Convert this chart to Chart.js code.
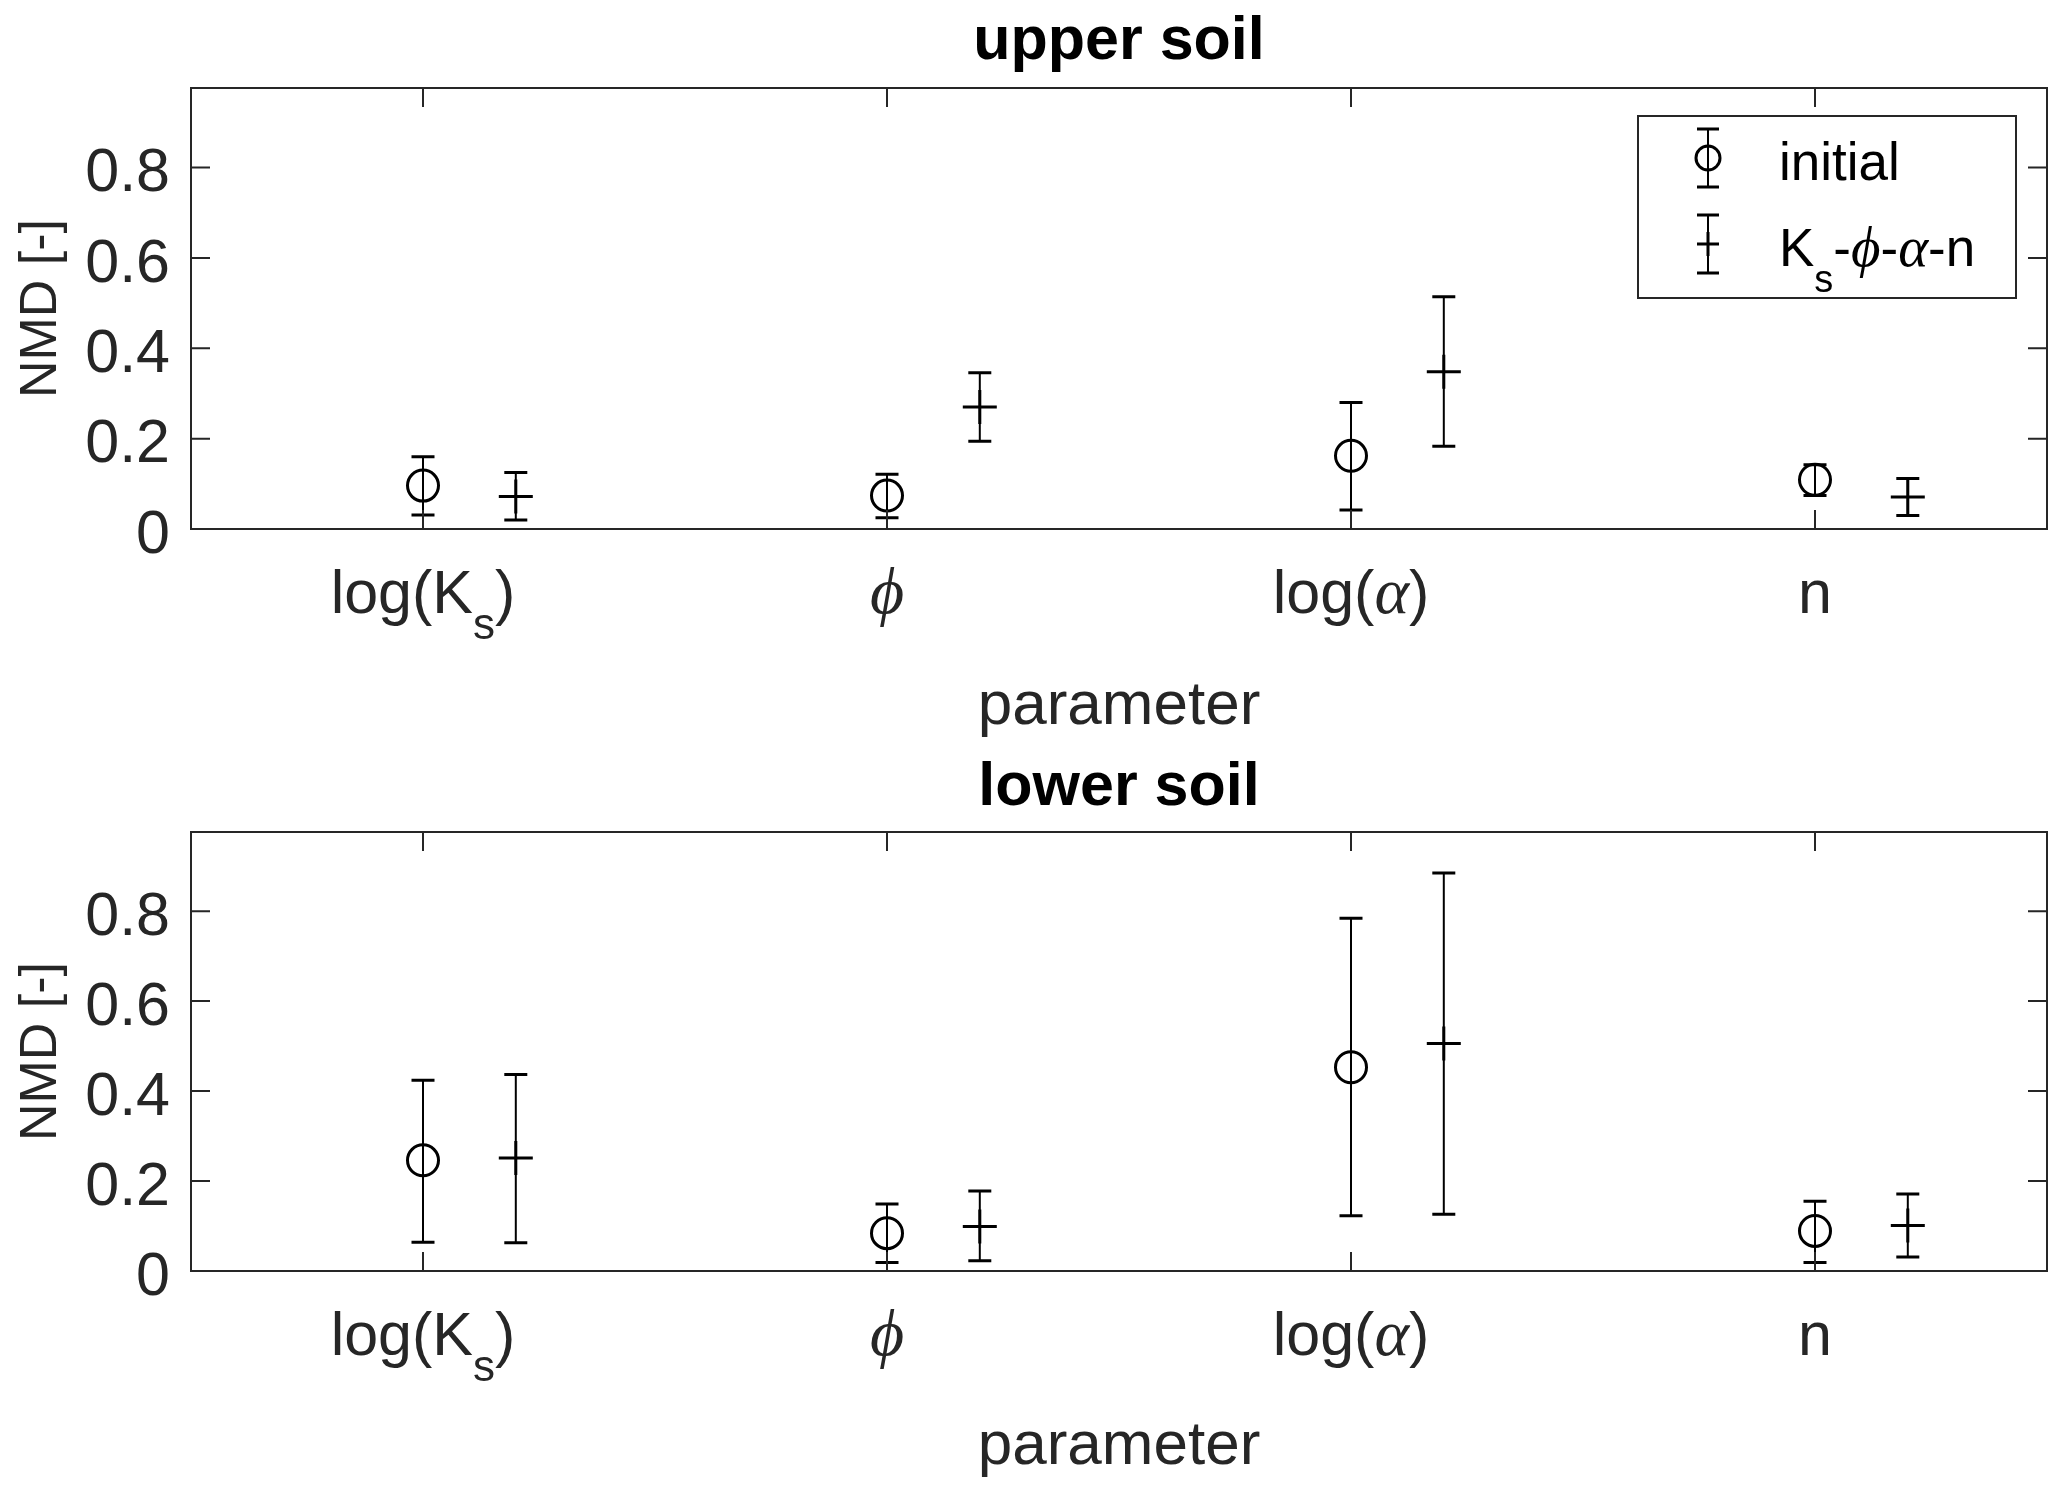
<!DOCTYPE html>
<html>
<head>
<meta charset="utf-8">
<title>NMD per parameter</title>
<script src="https://cdn.jsdelivr.net/npm/chart.js@4.4.1/dist/chart.umd.min.js"></script>
<style>
  html, body { margin: 0; padding: 0; background: #fff; }
  #wrap { position: relative; width: 2067px; height: 1495px; }
  .pane { position: absolute; left: 0; width: 2067px; }
  #upperPane { top: 0; height: 748px; }
  #lowerPane { top: 748px; height: 747px; }
  canvas { display: block; }
</style>
</head>
<body>
<div id="wrap">
  <div class="pane" id="upperPane"><canvas id="upperChart" width="2067" height="748"></canvas></div>
  <div class="pane" id="lowerPane"><canvas id="lowerChart" width="2067" height="747"></canvas></div>
</div>
<script>
// categories sit at x = 1..4, the second series is drawn 0.2 to the right
const categoryPos = [1, 2, 3, 4];
const seriesShift = [0, 0.2];
const yTicks = [0, 0.2, 0.4, 0.6, 0.8];
const yMax = 0.976;

const seriesNames = ["initial", "Ks-ϕ-α-n"];
const seriesLabelParts = [
  [{ t: "initial" }],
  [{ t: "K" }, { t: "s", sub: true }, { t: "-" }, { t: "ϕ", greek: true }, { t: "-" }, { t: "α", greek: true }, { t: "-n" }],
];
const xTickParts = [
  [{ t: "log(K" }, { t: "s", sub: true }, { t: ")" }],
  [{ t: "ϕ", greek: true }],
  [{ t: "log(" }, { t: "α", greek: true }, { t: ")" }],
  [{ t: "n" }],
];

// upper soil
const upInit   = [0.096, 0.074, 0.162, 0.109];
const upInitLo = [0.031, 0.025, 0.042, 0.074];
const upInitHi = [0.160, 0.121, 0.280, 0.142];
const upFit    = [0.072, 0.270, 0.348, 0.071];
const upFitLo  = [0.020, 0.194, 0.183, 0.030];
const upFitHi  = [0.125, 0.346, 0.514, 0.112];

// lower soil
const lowInit   = [0.246, 0.084, 0.453, 0.089];
const lowInitLo = [0.064, 0.019, 0.123, 0.019];
const lowInitHi = [0.424, 0.149, 0.784, 0.155];
const lowFit    = [0.251, 0.099, 0.506, 0.101];
const lowFitLo  = [0.063, 0.023, 0.126, 0.031];
const lowFitHi  = [0.437, 0.178, 0.885, 0.171];

const SANS = '"Liberation Sans", Arial, Helvetica, sans-serif';
const SERIF = '"Liberation Serif", "DejaVu Serif", serif';
const AXIS_COLOR = "#262626";

Chart.defaults.font.family = SANS;

function partFont(p, size) {
  if (p.greek) return `italic ${Math.round(size * 1.08)}px ${SERIF}`;
  if (p.sub) return `${Math.round(size * 0.72)}px ${SANS}`;
  return `${size}px ${SANS}`;
}

function drawRich(ctx, parts, x, y, size, align, drop) {
  ctx.save();
  ctx.textBaseline = "alphabetic";
  ctx.textAlign = "left";
  const widths = parts.map((p) => {
    ctx.font = partFont(p, size);
    return ctx.measureText(p.t).width;
  });
  const total = widths.reduce((a, b) => a + b, 0);
  let cx = align === "center" ? x - total / 2 : x;
  parts.forEach((p, i) => {
    ctx.font = partFont(p, size);
    ctx.fillText(p.t, cx, p.sub ? y + drop : y);
    cx += widths[i];
  });
  ctx.restore();
}

const errorBarPlugin = {
  id: "errorBars",
  beforeDatasetsDraw(chart) {
    const { ctx } = chart;
    const yScale = chart.scales.y;
    chart.data.datasets.forEach((ds, di) => {
      const meta = chart.getDatasetMeta(di);
      ctx.save();
      ctx.strokeStyle = "#000";
      meta.data.forEach((pt, i) => {
        const yLo = yScale.getPixelForValue(ds.errLo[i]);
        const yHi = yScale.getPixelForValue(ds.errHi[i]);
        ctx.lineWidth = 2;
        ctx.beginPath();
        ctx.moveTo(pt.x, yLo);
        ctx.lineTo(pt.x, yHi);
        ctx.stroke();
        ctx.lineWidth = 3;
        ctx.beginPath();
        ctx.moveTo(pt.x - 11.5, yLo);
        ctx.lineTo(pt.x + 11.5, yLo);
        ctx.moveTo(pt.x - 11.5, yHi);
        ctx.lineTo(pt.x + 11.5, yHi);
        ctx.stroke();
      });
      ctx.restore();
    });
  },
};

// matlab-like box: frame, inward ticks on all four sides, rich x labels, legend
const axesPlugin = {
  id: "matlabAxes",
  afterDatasetsDraw(chart) {
    const { ctx, chartArea: a, scales: { x, y } } = chart;
    const tl = 19;
    ctx.save();
    ctx.strokeStyle = AXIS_COLOR;
    ctx.lineWidth = 2;
    ctx.beginPath();
    x.ticks.forEach((t) => {
      const px = x.getPixelForValue(t.value);
      ctx.moveTo(px, a.bottom);
      ctx.lineTo(px, a.bottom - tl);
      ctx.moveTo(px, a.top);
      ctx.lineTo(px, a.top + tl);
    });
    y.ticks.forEach((t) => {
      const py = y.getPixelForValue(t.value);
      ctx.moveTo(a.left, py);
      ctx.lineTo(a.left + tl, py);
      ctx.moveTo(a.right, py);
      ctx.lineTo(a.right - tl, py);
    });
    ctx.stroke();
    ctx.strokeRect(a.left, a.top, a.right - a.left, a.bottom - a.top);
    ctx.restore();
  },
  afterDraw(chart, args, opts) {
    const { ctx, chartArea: a, scales: { x } } = chart;
    ctx.save();
    ctx.fillStyle = AXIS_COLOR;
    x.ticks.forEach((t, i) => {
      drawRich(ctx, xTickParts[i], x.getPixelForValue(t.value), a.bottom + 84, 61, "center", 26);
    });
    ctx.restore();

    const lg = opts.legend;
    if (!lg) return;
    ctx.save();
    ctx.fillStyle = "#fff";
    ctx.fillRect(lg.left, lg.top, lg.right - lg.left, lg.bottom - lg.top);
    ctx.strokeStyle = AXIS_COLOR;
    ctx.lineWidth = 2;
    ctx.strokeRect(lg.left, lg.top, lg.right - lg.left, lg.bottom - lg.top);
    chart.data.datasets.forEach((ds, di) => {
      const yc = lg.rows[di];
      const sx = lg.sampleX;
      ctx.strokeStyle = "#000";
      ctx.lineWidth = 2;
      ctx.beginPath();
      ctx.moveTo(sx, yc - 29);
      ctx.lineTo(sx, yc + 29);
      ctx.stroke();
      ctx.lineWidth = 3;
      ctx.beginPath();
      ctx.moveTo(sx - 11, yc - 29);
      ctx.lineTo(sx + 11, yc - 29);
      ctx.moveTo(sx - 11, yc + 29);
      ctx.lineTo(sx + 11, yc + 29);
      ctx.stroke();
      ctx.beginPath();
      if (ds.pointStyle === "circle") {
        ctx.arc(sx, yc, 12, 0, Math.PI * 2);
      } else {
        ctx.moveTo(sx - 11, yc);
        ctx.lineTo(sx + 11, yc);
        ctx.moveTo(sx, yc - 12);
        ctx.lineTo(sx, yc + 12);
      }
      ctx.stroke();
      ctx.fillStyle = "#000";
      drawRich(ctx, seriesLabelParts[di], lg.textX, yc + 22, 53, "left", 26);
    });
    ctx.restore();
  },
};

function makePanel(canvasId, title, init, initLo, initHi, fit, fitLo, fitHi, lay) {
  const toPts = (vals, shift) => vals.map((v, i) => ({ x: categoryPos[i] + shift, y: v }));
  return new Chart(document.getElementById(canvasId), {
    type: "scatter",
    data: {
      datasets: [
        {
          label: seriesNames[0],
          data: toPts(init, seriesShift[0]),
          errLo: initLo,
          errHi: initHi,
          pointStyle: "circle",
          pointRadius: 15.5,
          pointBorderWidth: 3,
          borderColor: "#000",
          backgroundColor: "rgba(0,0,0,0)",
        },
        {
          label: seriesNames[1],
          data: toPts(fit, seriesShift[1]),
          errLo: fitLo,
          errHi: fitHi,
          pointStyle: "cross",
          pointRadius: 17,
          pointBorderWidth: 3,
          borderColor: "#000",
          backgroundColor: "#000",
        },
      ],
    },
    options: {
      responsive: false,
      animation: false,
      devicePixelRatio: 1,
      events: [],
      layout: { padding: { left: 0, right: 20, top: 0, bottom: 0 } },
      plugins: {
        legend: { display: false },
        tooltip: { enabled: false },
        title: {
          display: true,
          text: title,
          fullSize: false,
          color: "#000",
          font: { size: 61, weight: "bold", lineHeight: 1.2 },
          padding: { top: lay.titleTop, bottom: lay.titleBottom },
        },
        matlabAxes: { legend: lay.legend || null },
      },
      scales: {
        x: {
          type: "linear",
          min: 0.5,
          max: 4.5,
          afterBuildTicks: (s) => { s.ticks = categoryPos.map((v) => ({ value: v })); },
          afterFit: (s) => { s.height = lay.xHeight; },
          grid: { display: false, drawTicks: false },
          border: { display: false },
          ticks: { display: false },
          title: {
            display: true,
            text: "parameter",
            color: AXIS_COLOR,
            font: { size: 62, lineHeight: 1.2 },
            padding: { top: 0, bottom: lay.xTitleBottom },
          },
        },
        y: {
          min: 0,
          max: yMax,
          afterBuildTicks: (s) => { s.ticks = yTicks.map((v) => ({ value: v })); },
          afterFit: (s) => { s.width = 191; },
          grid: { display: false, drawTicks: false },
          border: { display: false },
          ticks: {
            padding: 21,
            labelOffset: 7,
            color: AXIS_COLOR,
            font: { size: 61 },
            callback: (v) => String(+Number(v).toFixed(1)),
          },
          title: {
            display: true,
            text: "NMD [-]",
            color: AXIS_COLOR,
            font: { size: 52, lineHeight: 1.2 },
            padding: { top: 10, bottom: 0 },
          },
        },
      },
    },
    plugins: [errorBarPlugin, axesPlugin],
  });
}

makePanel("upperChart", "upper soil", upInit, upInitLo, upInitHi, upFit, upFitLo, upFitHi, {
  titleTop: 6,
  titleBottom: 8.8,
  xHeight: 219,
  xTitleBottom: 3.5,
  legend: { left: 1638, top: 116, right: 2016, bottom: 298, sampleX: 1708, textX: 1779, rows: [158, 244] },
});

makePanel("lowerChart", "lower soil", lowInit, lowInitLo, lowInitHi, lowFit, lowFitLo, lowFitHi, {
  titleTop: 4,
  titleBottom: 6.8,
  xHeight: 224,
  xTitleBottom: 10.5,
});
</script>
</body>
</html>
